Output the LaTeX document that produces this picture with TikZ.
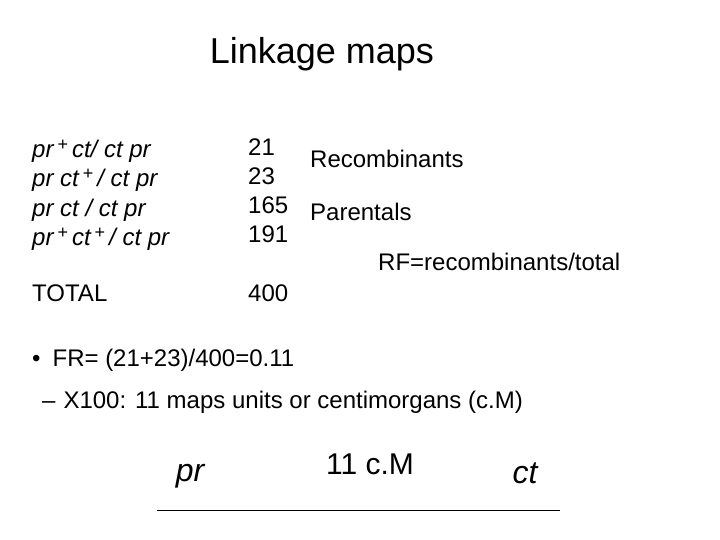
\documentclass[tikz,border=0pt]{standalone}
\usepackage{fontspec}
\setmainfont{Liberation Sans}
\newcommand{\plusup}{\,\raisebox{7pt}{\upshape\fontsize{18}{20}\selectfont+}\,}
\begin{document}
\begin{tikzpicture}[x=1pt,y=-1pt,
	txt/.style={anchor=base west,inner sep=0pt,font=\fontsize{24}{28}\selectfont},
	big/.style={anchor=base,inner sep=0pt}]
	\useasboundingbox (0,0) rectangle (720,540);

	\node[anchor=base,inner sep=0pt,font=\fontsize{36}{40}\selectfont] (title) at (322,64) {Linkage maps};

	\node[txt] (g1) at (32,158) {\itshape pr\plusup ct/ ct pr};
	\node[txt] (g2) at (32,187) {\itshape pr ct\plusup / ct pr};
	\node[txt] (g3) at (32,216) {\itshape pr ct / ct pr};
	\node[txt] (g4) at (32,245) {\itshape pr\plusup ct\plusup / ct pr};
	\node[txt] (tot) at (32,301) {TOTAL};

	\node[txt] (n1) at (248,156) {21};
	\node[txt] (n2) at (248,185) {23};
	\node[txt] (n3) at (248,214) {165};
	\node[txt] (n4) at (248,243) {191};
	\node[txt] (n5) at (248,301) {400};

	\node[txt] (rec) at (310,168) {Recombinants};
	\node[txt] (par) at (310,221) {Parentals};
	\node[txt] (rf) at (378,270) {RF=recombinants/total};

	\node[txt] (b1) at (32,366) {\textbullet\hspace{12pt}FR= (21+23)/400=0.11};
	\node[txt] (b2) at (42,408) {--\hspace{8pt}X100: 11 maps units or centimorgans (c.M)};

	\node[big,font=\fontsize{32}{36}\selectfont\itshape] (pr) at (190,481) {pr};
	\node[big,font=\fontsize{30}{34}\selectfont] (cm) at (370,474) {11 c.M};
	\node[big,font=\fontsize{32}{36}\selectfont\itshape] (ct) at (525,483) {ct};

	\coordinate (l1) at (157,510);
	\coordinate (l2) at (560,510);
	\draw[thin] (l1) -- (l2);
\end{tikzpicture}
\end{document}
